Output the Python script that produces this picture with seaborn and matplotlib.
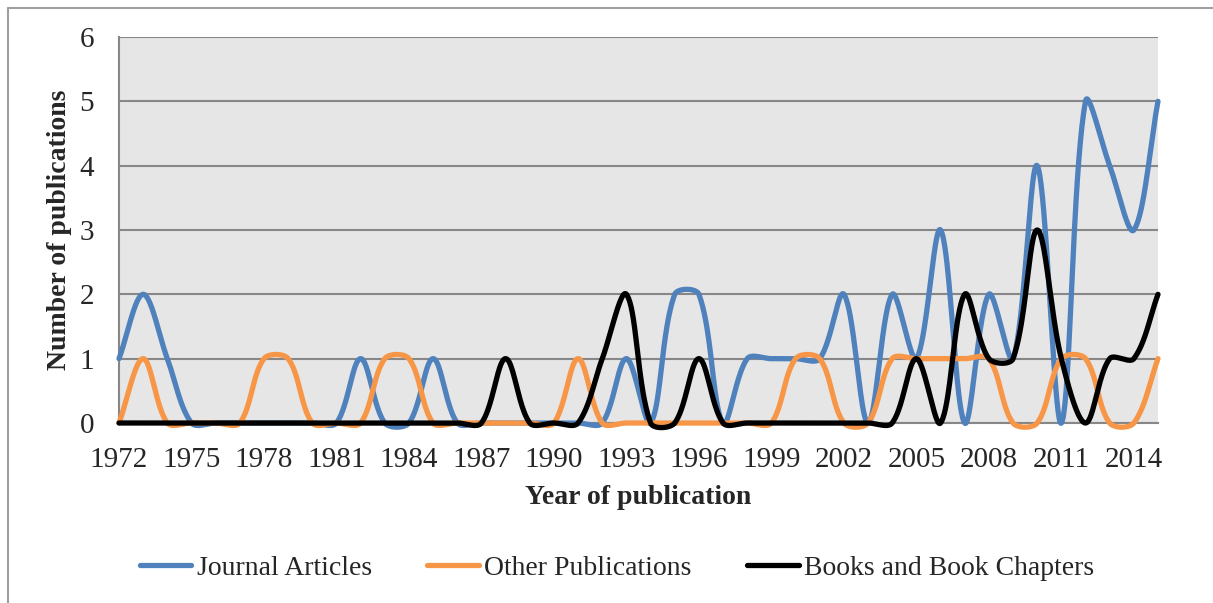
import matplotlib
matplotlib.use("Agg")
import matplotlib.pyplot as plt
from matplotlib.lines import Line2D
import seaborn as sns
import numpy as np
import pandas as pd

years = list(range(1972, 2016))
journal_articles = [1, 2, 1, 0, 0, 0, 0, 0, 0, 0, 1, 0, 0, 1, 0, 0, 0, 0, 0, 0, 0, 1,
                    0, 2, 2, 0, 1, 1, 1, 1, 2, 0, 2, 1, 3, 0, 2, 1, 4, 0, 5, 4, 3, 5]
other_publications = [0, 1, 0, 0, 0, 0, 1, 1, 0, 0, 0, 1, 1, 0, 0, 0, 0, 0, 0, 1, 0, 0,
                      0, 0, 0, 0, 0, 0, 1, 1, 0, 0, 1, 1, 1, 1, 1, 0, 0, 1, 1, 0, 0, 1]
books_chapters = [0, 0, 0, 0, 0, 0, 0, 0, 0, 0, 0, 0, 0, 0, 0, 0, 1, 0, 0, 0, 1, 2,
                  0, 0, 1, 0, 0, 0, 0, 0, 0, 0, 0, 1, 0, 2, 1, 1, 3, 1, 0, 1, 1, 2]
series_names = ["Journal Articles", "Other Publications", "Books and Book Chapters"]
colors = ["#4f81bd", "#f79646", "#000000"]
x_ticks = list(range(1972, 2015, 3))

# pixel size of one year / one publication on the plot, used for smoothing
PX_X, PX_Y = 24.16, 64.3


# Excel-style smoothed line: cubic Bezier, control arms split by segment lengths
def smooth(x, y, n=40):
    p = np.column_stack([np.asarray(x, float) * PX_X, np.asarray(y, float) * PX_Y])
    k = len(p)
    c_in = p.copy()
    c_out = p.copy()
    for i in range(k):
        a = p[max(i - 1, 0)]
        b = p[min(i + 1, k - 1)]
        d0 = np.linalg.norm(p[i] - a)
        d1 = np.linalg.norm(b - p[i])
        if d0 + d1 == 0:
            continue
        tan = (b - a) / 3
        c_in[i] = p[i] - tan * d0 / (d0 + d1)
        c_out[i] = p[i] + tan * d1 / (d0 + d1)
    t = np.linspace(0, 1, n, endpoint=False)[:, None]
    pts = []
    for i in range(k - 1):
        seg = ((1 - t) ** 3 * p[i] + 3 * (1 - t) ** 2 * t * c_out[i]
               + 3 * (1 - t) * t ** 2 * c_in[i + 1] + t ** 3 * p[i + 1])
        pts.append(seg)
    pts.append(p[-1:])
    pts = np.vstack(pts)
    return pts[:, 0] / PX_X, pts[:, 1] / PX_Y


frames = []
for name, vals in zip(series_names, [journal_articles, other_publications, books_chapters]):
    sx, sy = smooth(years, vals)
    frames.append(pd.DataFrame({"year": sx, "count": sy, "series": name}))
df = pd.concat(frames, ignore_index=True)

sns.set_style("white")
plt.rcParams["font.family"] = ["Liberation Serif", "DejaVu Serif"]

fig = plt.figure(figsize=(12.13, 6.03), dpi=100)
ax = fig.add_axes([119 / 1213, 1 - 423 / 603, (1158 - 119) / 1213, (423 - 37) / 603])
ax.set_facecolor("#e6e6e6")

sns.lineplot(data=df, x="year", y="count", hue="series", palette=colors,
             hue_order=series_names, sort=False, estimator=None, linewidth=3.8,
             legend=False, ax=ax)
for ln in ax.lines:
    ln.set_solid_capstyle("round")
    ln.set_clip_on(False)
    ln.set_zorder(3)

ax.set_xlim(1972, 2015)
ax.set_ylim(0, 6)
ax.set_yticks(range(0, 7))
ax.set_xticks(x_ticks)
ax.set_xticklabels([str(v) for v in x_ticks])
ax.grid(axis="y", color="#878787", linewidth=1.5)
ax.grid(axis="x", visible=False)
ax.set_axisbelow(True)
for s in ["top", "right"]:
    ax.spines[s].set_visible(False)
for s in ["left", "bottom"]:
    ax.spines[s].set_color("#878787")
    ax.spines[s].set_linewidth(1.5)
ax.tick_params(axis="x", length=6, width=1.2, color="#878787", labelsize=21, pad=11)
ax.tick_params(axis="y", length=0, labelsize=21, pad=18)

ax.set_xlabel("Year of publication", fontsize=20, fontweight="bold")
ax.set_ylabel("Number of publications", fontsize=20, fontweight="bold")
ax.xaxis.set_label_coords(0.5, -0.16)
ax.yaxis.set_label_coords(-0.045, 0.5)

handles = [Line2D([], [], color=c, linewidth=3.8) for c in colors]
fig.legend(handles, series_names, loc="center", bbox_to_anchor=(617 / 1213, 1 - 568 / 603),
           ncol=3, frameon=False, fontsize=20, handlelength=1.85, handletextpad=0.2,
           columnspacing=2.0)

# chart border (top and left edges visible)
fig.add_artist(Line2D([8 / 1213, 8 / 1213], [0, 1 - 8 / 603], transform=fig.transFigure,
                      color="#a0a0a0", linewidth=1.5))
fig.add_artist(Line2D([8 / 1213, 1], [1 - 8 / 603, 1 - 8 / 603], transform=fig.transFigure,
                      color="#a0a0a0", linewidth=1.5))

fig.savefig("out.png", dpi=100)
